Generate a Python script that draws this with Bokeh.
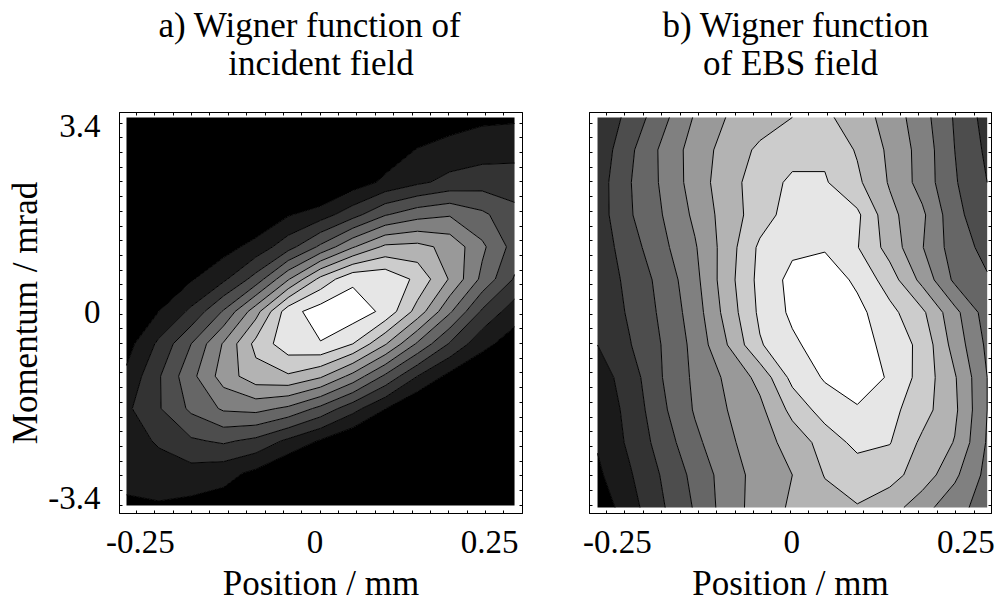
import numpy as np
from bokeh.plotting import figure
from bokeh.layouts import row
from bokeh.models import FixedTicker, LinearAxis, Title, Range1d
from bokeh.embed import file_html
from bokeh.resources import INLINE

# ---------------- values (rows listed top -> bottom) ----------------
# Panel a: Wigner function of the incident field (values in contour-step units)
position_a_mm = np.linspace(-0.270, 0.2856, 13)
momentum_a_mrad = np.linspace(3.55, -3.545, 13)
wigner_incident = [
    [-1.8, -1.8, -1.8, -1.8, -1.8, -1.8, -1.7, -1.6, -1.3, 0.1, 0.55, 0.8, 0.85],
    [-1.8, -1.8, -1.8, -1.8, -1.75, -1.6, -1.3, -0.6, 0.4, 1.05, 1.35, 1.55, 1.65],
    [-1.8, -1.8, -1.75, -1.6, -1.4, -0.9, -0.45, 0.45, 1.2, 1.8, 2.3, 2.55, 2.5],
    [-1.8, -1.7, -1.5, -0.9, 0.1, 0.9, 1.5, 2.6, 3.9, 4.6, 4.9, 4.2, 3.3],
    [-1.5, -1.35, -0.5, 0.6, 1.35, 2.6, 4.2, 5.9, 7.2, 7.3, 6.7, 5.2, 3.6],
    [-0.9, -0.3, 0.9, 1.8, 3.4, 5.9, 8.3, 9.8, 9.8, 8.75, 6.9, 4.75, 2.9],
    [0.05, 1.0, 2.2, 4.1, 6.6, 9.6, 10.5, 10.6, 9.75, 7.6, 5.15, 2.85, 1.45],
    [0.6, 2.2, 4.0, 6.1, 8.3, 9.6, 9.95, 9.0, 7.1, 4.85, 2.9, 1.3, 0.5],
    [1.2, 2.9, 4.7, 6.45, 7.6, 7.87, 7.16, 5.67, 3.82, 2.0, 0.7, 0.1, -0.6],
    [1.8, 2.91, 4.21, 5.15, 5.32, 4.8, 3.73, 2.37, 1.03, -0.1, -0.9, -1.4, -1.6],
    [1.6, 2.11, 2.86, 3.16, 2.75, 1.79, 0.9, 0.05, -0.7, -1.3, -1.6, -1.7, -1.8],
    [1.3, 1.6, 1.6, 1.35, 0.75, -0.15, -0.77, -1.3, -1.6, -1.7, -1.8, -1.8, -1.8],
    [0.85, 0.9, 0.75, 0.55, 0.15, -0.6, -1.2, -1.5, -1.7, -1.8, -1.8, -1.8, -1.8],
]

# Panel b: Wigner function of the EBS field
position_b_mm = np.linspace(-0.2785, 0.2805, 13)
momentum_b_mrad = np.linspace(3.55, -3.58, 13)
wigner_ebs = [
    [2.2, 3.3, 4.7, 6.1, 7.05, 7.5, 8.0, 8.2, 7.5, 6.6, 5.4, 3.9, 2.6],
    [2.3, 3.8, 5.2, 6.45, 7.4, 8.2, 8.6, 8.8, 7.9, 6.8, 5.6, 4.0, 2.8],
    [2.5, 3.95, 5.15, 6.45, 7.6, 8.5, 9.2, 9.1, 8.2, 6.9, 5.6, 4.1, 3.0],
    [2.5, 3.9, 5.0, 6.2, 7.5, 8.5, 9.5, 9.7, 9.2, 7.3, 6.2, 4.3, 3.3],
    [2.4, 3.55, 4.75, 5.9, 7.5, 9.2, 9.8, 9.9, 9.05, 7.6, 6.05, 4.5, 3.7],
    [2.4, 3.25, 4.35, 5.7, 7.6, 9.3, 10.3, 10.6, 9.8, 8.5, 6.7, 4.8, 4.1],
    [2.2, 3.15, 4.2, 5.5, 7.4, 9.2, 10.2, 10.6, 10.3, 9.3, 8.2, 6.3, 4.5],
    [2.0, 2.95, 4.05, 5.3, 7.0, 8.9, 9.8, 10.5, 10.4, 9.7, 8.7, 6.6, 4.8],
    [1.5, 2.5, 4.0, 5.2, 6.2, 7.3, 9.3, 10.1, 10.5, 9.9, 8.6, 7.1, 5.0],
    [1.3, 2.3, 3.8, 5.1, 6.0, 6.75, 8.3, 9.45, 9.9, 9.3, 8.4, 7.2, 5.0],
    [1.1, 2.2, 3.45, 4.75, 5.8, 6.55, 7.4, 8.4, 9.3, 9.05, 7.8, 6.95, 4.9],
    [0.8, 1.9, 3.1, 4.3, 5.5, 6.4, 7.0, 8.05, 8.4, 8.3, 7.6, 6.2, 4.7],
    [0.3, 1.6, 2.9, 4.1, 5.5, 6.45, 7.15, 7.6, 7.95, 7.5, 6.35, 5.4, 4.5],
]

contour_levels = [-5, 1, 2, 3, 4, 5, 6, 7, 8, 9, 10, 15]
gray_fills = ["#000000", "#1a1a1a", "#333333", "#4d4d4d", "#666666", "#808080",
              "#999999", "#b3b3b3", "#cccccc", "#e6e6e6", "#ffffff"]

x_tick_values = [-0.25, 0, 0.25]
x_tick_labels = ["-0.25", "0", "0.25"]
y_tick_values = [-3.4, 0, 3.4]
y_tick_labels = ["-3.4", "0", "3.4"]

# ---------------- styling ----------------
FONT = "Liberation Serif"
Y_RANGE = (-3.69, 3.64)
y_marks = [3.4446 - 0.2686 * k for k in range(27)]
x_marks_a = [-0.2557 + 0.0263 * k for k in range(21)]
x_marks_b = [-0.2656 + 0.02636 * k for k in range(21)]


def style_axis(ax):
    ax.axis_line_color = "black"
    ax.axis_line_width = 1
    ax.major_tick_line_color = None
    ax.major_tick_in = 0
    ax.major_tick_out = 0
    ax.minor_tick_line_color = "black"
    ax.minor_tick_in = 3
    ax.minor_tick_out = 0
    ax.major_label_text_font = FONT
    ax.major_label_text_font_size = "33px"
    ax.major_label_text_color = "black"
    ax.axis_label_text_font = FONT
    ax.axis_label_text_font_size = "35px"
    ax.axis_label_text_font_style = "normal"
    ax.axis_label_text_color = "black"
    return ax


def build(width, b_left, b_right, x_range, x_marks, xs, ys, z, title1, title2, t_offset, show_y):
    p = figure(width=width, height=605,
               x_range=Range1d(*x_range), y_range=Range1d(*Y_RANGE),
               x_axis_type=None, y_axis_type=None,
               output_backend="svg", toolbar_location=None,
               min_border_left=b_left, min_border_right=b_right,
               min_border_top=112, min_border_bottom=91)
    p.background_fill_color = "white"
    p.border_fill_color = "white"
    p.outline_line_color = "black"
    p.outline_line_width = 1

    zz = np.array(z, dtype=float)[::-1]
    yy = np.array(ys, dtype=float)[::-1]
    p.contour(x=np.array(xs, dtype=float), y=yy, z=zz, levels=contour_levels,
              fill_color=gray_fills, line_color="black", line_width=1)

    bottom = style_axis(LinearAxis(ticker=FixedTicker(ticks=x_tick_values, minor_ticks=x_marks)))
    bottom.major_label_overrides = dict(zip(x_tick_values, x_tick_labels))
    bottom.major_label_standoff = 17
    bottom.axis_label = "Position / mm"
    bottom.axis_label_standoff = 8
    p.add_layout(bottom, "below")

    if show_y:
        left = style_axis(LinearAxis(ticker=FixedTicker(ticks=y_tick_values, minor_ticks=y_marks)))
        left.major_label_overrides = dict(zip(y_tick_values, y_tick_labels))
        left.major_label_standoff = 19
        left.axis_label = "Momentum / mrad"
        left.axis_label_standoff = 0
    else:
        left = style_axis(LinearAxis(ticker=FixedTicker(ticks=[], minor_ticks=y_marks)))
    p.add_layout(left, "left")

    # top frame axis: tick marks only; its label carries the second title line
    top = style_axis(LinearAxis(ticker=FixedTicker(ticks=[], minor_ticks=x_marks)))
    top.major_label_standoff = 0
    top.axis_label = title2
    top.axis_label_standoff = 30
    p.add_layout(top, "above")

    right = style_axis(LinearAxis(ticker=FixedTicker(ticks=[], minor_ticks=y_marks)))
    p.add_layout(right, "right")

    p.add_layout(Title(text=title1, align="left", offset=t_offset, standoff=-8,
                       text_font=FONT, text_font_size="35px", text_font_style="normal",
                       text_color="black"), "above")
    return p


pa = build(544, 119, 22, (-0.28, 0.297), x_marks_a, position_a_mm, momentum_a_mrad,
           wigner_incident, "a) Wigner function of", "incident field", 39, True)
pb = build(458, 45, 11, (-0.29, 0.2867), x_marks_b, position_b_mm, momentum_b_mrad,
           wigner_ebs, "b) Wigner function", "of EBS field", 73, False)

layout = row(pa, pb)
open("out.html", "w").write(file_html(layout, INLINE, title="Wigner functions"))
